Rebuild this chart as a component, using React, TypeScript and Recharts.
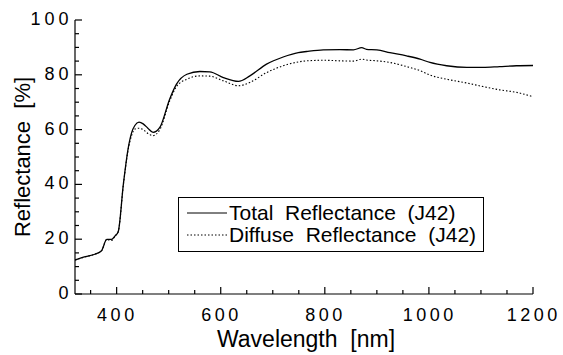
import { LineChart, Line, XAxis, YAxis, Legend } from 'recharts';

const wavelength = [320, 340, 358, 371, 381, 390, 397, 403, 413, 422, 429, 435, 443, 451, 460, 470, 483, 502, 515, 535, 560, 579, 605, 634, 656, 688, 720, 749, 765, 797, 829, 855, 871, 880, 900, 925, 957, 983, 1002, 1034, 1073, 1104, 1136, 1168, 1200];
const totalReflectance = [12.4, 13.6, 14.5, 15.8, 19.9, 19.9, 21.2, 22.7, 40.2, 53, 59, 61.5, 62.7, 62.1, 60.5, 59, 60.8, 71.2, 76.6, 80.2, 81.2, 81.1, 79, 77.6, 79.6, 83.9, 86.5, 88.1, 88.5, 89.1, 89.2, 89.1, 89.9, 89.3, 89.1, 88.1, 86.9, 85.7, 84.5, 83.3, 82.7, 82.7, 83, 83.3, 83.4];
const diffuseReflectance = [12.4, 13.6, 14.5, 15.8, 19.9, 19.5, 21.2, 22.7, 40, 52.5, 58, 60.2, 60.5, 60, 58.6, 57.8, 60, 70.5, 75.7, 78.4, 79.6, 79.5, 77.8, 76, 77.2, 80.8, 83.3, 84.7, 85.1, 85.3, 85.1, 85, 85.7, 85.4, 85.1, 84.5, 83, 81.5, 79.9, 78.4, 77, 75.7, 74.5, 73.6, 72];

const xTicks = [350, 400, 450, 500, 550, 600, 650, 700, 750, 800, 850, 900, 950, 1000, 1050, 1100, 1150, 1200];
const yTicks = [0, 5, 10, 15, 20, 25, 30, 35, 40, 45, 50, 55, 60, 65, 70, 75, 80, 85, 90, 95, 100];

const data = wavelength.map((w, i) => ({
  wavelength: w,
  total: totalReflectance[i],
  diffuse: diffuseReflectance[i],
}));

const FONT = "'Liberation Sans', Arial, Helvetica, sans-serif";
const SPACING = 3.5;

// ticks point inward; labels only on the major ones
function BottomTick(props: any) {
  const { x, y, payload } = props;
  const major = payload.value % 200 === 0;
  return (
    <g>
      <line x1={x} x2={x} y1={y} y2={y - (major ? 7 : 4)} stroke="#000" strokeWidth={1.2} />
      {major && (
        <text x={x + SPACING / 2 - 1} y={y + 27} textAnchor="middle" fontSize={18} fontFamily={FONT} letterSpacing={SPACING} fill="#000">
          {payload.value}
        </text>
      )}
    </g>
  );
}

function TopTick(props: any) {
  const { x, y, payload } = props;
  const major = payload.value % 200 === 0;
  return <line x1={x} x2={x} y1={y} y2={y + (major ? 7 : 4)} stroke="#000" strokeWidth={1.2} />;
}

function LeftTick(props: any) {
  const { x, y, payload } = props;
  const major = payload.value % 20 === 0;
  return (
    <g>
      <line x1={x} x2={x + (major ? 7 : 4)} y1={y} y2={y} stroke="#000" strokeWidth={1.2} />
      {major && (
        <text x={x - 6 + SPACING} y={y - 1} textAnchor="end" dominantBaseline="central" fontSize={18} fontFamily={FONT} letterSpacing={SPACING + 0.5} fill="#000">
          {payload.value}
        </text>
      )}
    </g>
  );
}

function RightTick(props: any) {
  const { x, y, payload } = props;
  const major = payload.value % 20 === 0;
  return <line x1={x} x2={x - (major ? 7 : 4)} y1={y} y2={y} stroke="#000" strokeWidth={1.2} />;
}

function YTitle(props: any) {
  const { viewBox } = props;
  const cx = 22;
  const cy = viewBox.y + viewBox.height / 2;
  return (
    <text x={cx} y={cy} transform={`rotate(-90, ${cx}, ${cy})`} textAnchor="middle" dominantBaseline="central" fontSize={22} fontFamily={FONT} fill="#000" style={{ whiteSpace: 'pre' }}>
      {'Reflectance  [%]'}
    </text>
  );
}

function XTitle(props: any) {
  const { viewBox } = props;
  const cx = viewBox.x + viewBox.width / 2 + 2;
  return (
    <text x={cx} y={347} textAnchor="middle" fontSize={23} fontFamily={FONT} fill="#000" style={{ whiteSpace: 'pre' }}>
      {'Wavelength  [nm]'}
    </text>
  );
}

function LegendBox() {
  const row = (label: string, dash: string | undefined, top: number) => (
    <div style={{ position: 'absolute', left: 0, top, height: 22, display: 'flex', alignItems: 'center' }}>
      <svg width={50} height={22}>
        <line x1={8} x2={48} y1={11} y2={11} stroke="#000" strokeWidth={1} strokeDasharray={dash} />
      </svg>
      <span style={{ whiteSpace: 'pre', fontSize: 21, fontFamily: FONT, color: '#000', lineHeight: '22px' }}>{label}</span>
    </div>
  );
  return (
    <div style={{ position: 'relative', width: 306, height: 55, border: '1.2px solid #000', boxSizing: 'border-box', background: '#fff' }}>
      {row('Total  Reflectance  (J42)', undefined, 4)}
      {row('Diffuse  Reflectance  (J42)', '1.5 2', 26)}
    </div>
  );
}

export default function App() {
  return (
    <div style={{ position: 'absolute', left: 0, top: 0, background: '#fff' }}>
      <LineChart width={563} height={355} data={data} margin={{ top: 20, right: 30, bottom: 0, left: 0 }}>
        <XAxis
          type="number"
          dataKey="wavelength"
          domain={[320, 1200]}
          ticks={xTicks}
          allowDataOverflow
          height={61}
          tickSize={0}
          tickMargin={0}
          tickLine={false}
          tick={<BottomTick />}
          axisLine={{ stroke: '#000', strokeWidth: 1.2 }}
          interval={0}
          label={<XTitle />}
        />
        <XAxis
          xAxisId="top"
          orientation="top"
          type="number"
          domain={[320, 1200]}
          ticks={xTicks}
          allowDataOverflow
          height={0}
          tickSize={0}
          tickMargin={0}
          tickLine={false}
          tick={<TopTick />}
          axisLine={{ stroke: '#000', strokeWidth: 1.2 }}
          interval={0}
        />
        <YAxis
          type="number"
          domain={[0, 100]}
          ticks={yTicks}
          allowDataOverflow
          width={75}
          tickSize={0}
          tickMargin={0}
          tickLine={false}
          tick={<LeftTick />}
          axisLine={{ stroke: '#000', strokeWidth: 1.2 }}
          interval={0}
          label={<YTitle />}
        />
        <YAxis
          yAxisId="right"
          orientation="right"
          type="number"
          domain={[0, 100]}
          ticks={yTicks}
          allowDataOverflow
          width={0}
          tickSize={0}
          tickMargin={0}
          tickLine={false}
          tick={<RightTick />}
          axisLine={{ stroke: '#000', strokeWidth: 1.2 }}
          interval={0}
        />
        <Legend
          layout="vertical"
          align="center"
          verticalAlign="middle"
          wrapperStyle={{ left: 178, top: 197, width: 306, height: 55 }}
          content={<LegendBox />}
        />
        <Line type="monotone" dataKey="total" stroke="#000" strokeWidth={1.3} dot={false} isAnimationActive={false} />
        <Line type="monotone" dataKey="diffuse" stroke="#000" strokeWidth={1.1} strokeDasharray="1.5 2" dot={false} isAnimationActive={false} />
      </LineChart>
    </div>
  );
}
